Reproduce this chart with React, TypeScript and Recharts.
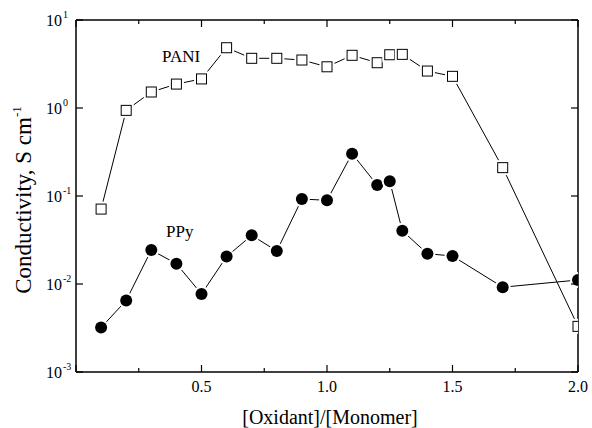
import { LineChart, Line, XAxis, YAxis } from 'recharts'

// [Oxidant]/[Monomer] ratio
const ratio = [0.1, 0.2, 0.3, 0.4, 0.5, 0.6, 0.7, 0.8, 0.9, 1.0, 1.1, 1.2, 1.25, 1.3, 1.4, 1.5, 1.7, 2.0]
// conductivity, S/cm
const pani = [0.071, 0.94, 1.52, 1.87, 2.14, 4.84, 3.67, 3.67, 3.51, 2.94, 3.97, 3.27, 4.03, 4.07, 2.63, 2.29, 0.21, 0.0033]
const ppy = [0.0032, 0.0065, 0.0243, 0.017, 0.0077, 0.0205, 0.0357, 0.0237, 0.0924, 0.0893, 0.303, 0.133, 0.147, 0.0403, 0.0221, 0.0208, 0.0092, 0.0111]

const xTicks = [0, 0.25, 0.5, 0.75, 1, 1.25, 1.5, 1.75, 2]
const yTicks = [0.001, 0.01, 0.1, 1, 10]

const data = ratio.map((x, i) => ({ x, pani: pani[i], ppy: ppy[i] }))

const font = 'Liberation Serif'
const axisLine = { stroke: '#000', strokeWidth: 1.5 }

const isMajor = (v: number) => Math.abs(v * 2 - Math.round(v * 2)) < 1e-6

function BottomTick({ x, y, payload }: any) {
  const v = payload.value
  const major = isMajor(v)
  return (
    <g>
      <line x1={x} y1={y} x2={x} y2={y - (major ? 7 : 4)} stroke="#000" strokeWidth={1.2} />
      {major && v > 0 && (
        <text x={x} y={y + 20} textAnchor="middle" fontSize={16} fontFamily={font} fill="#000">
          {v.toFixed(1)}
        </text>
      )}
    </g>
  )
}

function TopTick({ x, y, payload }: any) {
  const major = isMajor(payload.value)
  return <line x1={x} y1={y} x2={x} y2={y + (major ? 7 : 4)} stroke="#000" strokeWidth={1.2} />
}

function LeftTick({ x, y, payload }: any) {
  const e = Math.round(Math.log10(payload.value))
  return (
    <g>
      <line x1={x} y1={y} x2={x + 7} y2={y} stroke="#000" strokeWidth={1.2} />
      <text x={x - 14} y={y + 6} textAnchor="end" fontSize={16} fontFamily={font} fill="#000">10</text>
      <text x={x - 13} y={y - 2} fontSize={10} fontFamily={font} fill="#000">{String(e)}</text>
    </g>
  )
}

function RightTick({ x, y }: any) {
  return <line x1={x} y1={y} x2={x - 7} y2={y} stroke="#000" strokeWidth={1.2} />
}

function SquareDot({ cx, cy }: any) {
  if (cx == null || cy == null) return null
  return (
    <g>
      <rect x={cx - 7.5} y={cy - 7.5} width={15} height={15} fill="#fff" />
      <rect x={cx - 5} y={cy - 5} width={10} height={10} fill="#fff" stroke="#000" strokeWidth={1} />
    </g>
  )
}

function CircleDot({ cx, cy }: any) {
  if (cx == null || cy == null) return null
  return (
    <g>
      <circle cx={cx} cy={cy} r={8} fill="#fff" />
      <circle cx={cx} cy={cy} r={6} fill="#000" />
    </g>
  )
}

export default function App() {
  return (
    <div style={{ position: 'absolute', left: 0, top: 0, width: 592, height: 428, background: '#fff' }}>
      <LineChart width={592} height={428} data={data} margin={{ top: 0, right: 0, left: 0, bottom: 0 }}>
        <XAxis xAxisId="bottom" dataKey="x" type="number" domain={[0, 2]} ticks={xTicks} interval={0}
          allowDataOverflow height={56} tickSize={0} tickMargin={0} axisLine={axisLine} tickLine={false} tick={<BottomTick />} />
        <XAxis xAxisId="top" orientation="top" dataKey="x" type="number" domain={[0, 2]} ticks={xTicks} interval={0}
          allowDataOverflow height={20} tickSize={0} tickMargin={0} axisLine={axisLine} tickLine={false} tick={<TopTick />} />
        <YAxis yAxisId="left" scale="log" type="number" domain={[0.001, 10]} ticks={yTicks} interval={0}
          allowDataOverflow width={76} tickSize={0} tickMargin={0} axisLine={axisLine} tickLine={false} tick={<LeftTick />} />
        <YAxis yAxisId="right" orientation="right" scale="log" type="number" domain={[0.001, 10]} ticks={yTicks} interval={0}
          allowDataOverflow width={14} tickSize={0} tickMargin={0} axisLine={axisLine} tickLine={false} tick={<RightTick />} />
        <Line xAxisId="bottom" yAxisId="left" dataKey="ppy" stroke="#000" strokeWidth={1}
          dot={(p: any) => <CircleDot key={p.key} {...p} />} activeDot={false} isAnimationActive={false} />
        <Line xAxisId="top" yAxisId="right" dataKey="pani" stroke="#000" strokeWidth={1}
          dot={(p: any) => <SquareDot key={p.key} {...p} />} activeDot={false} isAnimationActive={false} />
      </LineChart>
      <svg width={592} height={428} style={{ position: 'absolute', left: 0, top: 0, pointerEvents: 'none' }}
        fontFamily={font} fill="#000">
        <text x={162} y={62} fontSize={17}>PANI</text>
        <text x={166} y={237} fontSize={17}>PPy</text>
        <text x={330} y={424} fontSize={20} textAnchor="middle">[Oxidant]/[Monomer]</text>
        <text x={31} y={200} fontSize={23} textAnchor="middle" transform="rotate(-90, 31, 200)">
          Conductivity, S cm<tspan dy={-10} fontSize={13}>-1</tspan>
        </text>
      </svg>
    </div>
  )
}
